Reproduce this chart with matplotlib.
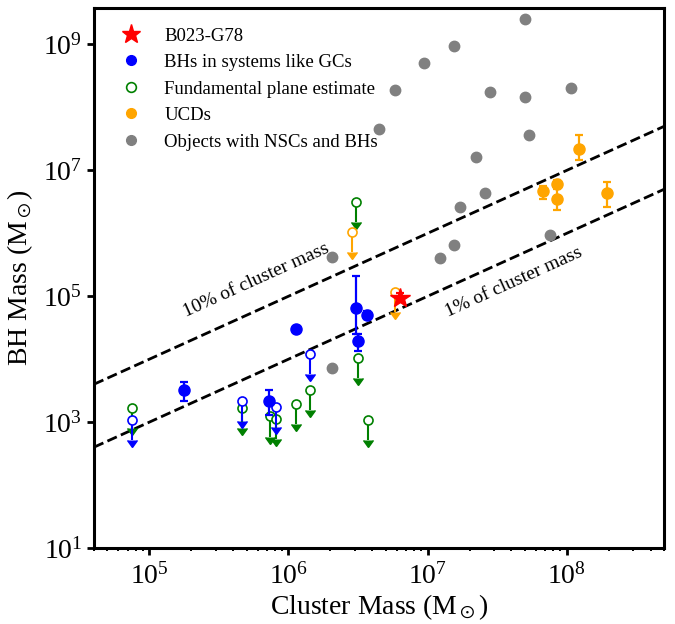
import numpy as np
import matplotlib
matplotlib.use('Agg')
import matplotlib.pyplot as plt
import matplotlib.lines as mlines

plt.rcParams['font.family'] = ['Liberation Serif', 'DejaVu Serif']
plt.rcParams['mathtext.fontset'] = 'stix'

# ---------------- data ----------------
# B023-G78
star_x = [6.3e6]
star_y = [9.5e4]
star_ylo = [8.0e4]
star_yhi = [1.12e5]

# BHs in systems like GCs (detections)
gc_x = [1.76e5, 7.3e5, 1.13e6, 3.08e6, 3.69e6, 3.16e6]
gc_y = [3.26e3, 2.18e3, 3.0e4, 6.4e4, 5.05e4, 1.93e4]
gc_ylo = [2.15e3, 1.3e3, 3.0e4, 2.5e4, 4.4e4, 1.37e4]
gc_yhi = [4.36e3, 3.26e3, 3.0e4, 2.1e5, 5.85e4, 2.5e4]

# BHs in systems like GCs (upper limits, open blue)
bul_x = [7.5e4, 4.62e5, 8.17e5, 1.43e6]
bul_y = [1.09e3, 2.18e3, 1.77e3, 1.19e4]

# Fundamental plane estimates (upper limits, open green)
fp_x = [7.5e4, 4.62e5, 7.31e5, 8.17e5, 1.135e6, 1.42e6, 3.72e6, 3.15e6, 3.08e6]
fp_y = [1.69e3, 1.67e3, 1.23e3, 1.13e3, 1.91e3, 3.26e3, 1.09e3, 1.05e4, 3.14e6]

# UCDs (detections)
ucd_x = [1.22e8, 6.73e7, 8.45e7, 8.45e7, 1.94e8]
ucd_y = [2.18e7, 4.64e6, 6.07e6, 3.47e6, 4.37e6]
ucd_ylo = [1.44e7, 3.5e6, 5.4e6, 2.35e6, 2.6e6]
ucd_yhi = [3.6e7, 5.6e6, 7.0e6, 5.0e6, 6.45e6]

# UCDs (upper limits, open orange)
oul_x = [2.85e6, 5.85e6]
oul_y = [1.06e6, 1.15e5]

# Objects with NSCs and BHs
nsc_x = [5.0e7, 1.54e7, 9.4e6, 5.8e6, 2.8e7, 5.0e7, 1.07e8, 4.5e6, 5.35e7,
         2.24e7, 2.57e7, 1.71e7, 1.54e7, 1.23e7, 7.6e7, 2.06e6, 2.06e6]
nsc_y = [2.5e9, 9.3e8, 5.1e8, 1.9e8, 1.75e8, 1.46e8, 2.06e8, 4.5e7, 3.6e7,
         1.64e7, 4.4e6, 2.6e6, 6.6e5, 4.0e5, 9.5e5, 4.2e5, 7.2e3]

line_fracs = [0.1, 0.01]
line_labels = ['10% of cluster mass', '1% of cluster mass']
line_label_pos = [(5.9e5, 1.8e5), (4.17e7, 1.67e5)]

xlim = (4e4, 5e8)
ylim = (1e1, 3.8e9)

# ---------------- figure ----------------
fig = plt.figure(figsize=(6.75, 6.24), dpi=100)
ax = fig.add_axes([94/675, 1-548/624, 570/675, 540/624])
ax.set_xscale('log')
ax.set_yscale('log')
ax.set_xlim(*xlim)
ax.set_ylim(*ylim)

# dashed lines
xx = np.array(xlim)
for f in line_fracs:
    ax.plot(xx, f*xx, ls='--', color='black', lw=2.0, zorder=1)

ARROW = 0.48
def upper_limits(xs, ys, color, zorder):
    xs = np.array(xs); ys = np.array(ys)
    ax.vlines(xs, ys*ARROW, ys, color=color, lw=1.5, zorder=zorder)
    ax.plot(xs, ys*ARROW, ls='none', marker=mlines.CARETDOWNBASE, ms=6.5,
            color=color, zorder=zorder)
    ax.plot(xs, ys, ls='none', marker='o', ms=6.5, mfc='white', mec=color,
            mew=1.2, zorder=zorder+0.1)

# gray
ax.plot(nsc_x, nsc_y, ls='none', marker='o', ms=7.5, color='gray', zorder=2)

# green FP upper limits
upper_limits(fp_x, fp_y, 'green', 3)
# blue upper limits
upper_limits(bul_x, bul_y, 'blue', 3.5)
# orange upper limits
upper_limits(oul_x, oul_y, 'orange', 3.5)

# blue detections
gy = np.array(gc_y)
ax.errorbar(gc_x, gc_y, yerr=[gy-np.array(gc_ylo), np.array(gc_yhi)-gy],
            fmt='none', ecolor='blue', elinewidth=1.6, capsize=2.8, capthick=1.6,
            zorder=4)
ax.plot(gc_x, gc_y, ls='none', marker='o', ms=8, color='blue', zorder=4.1)

# UCD detections
uy = np.array(ucd_y)
ax.errorbar(ucd_x, ucd_y, yerr=[uy-np.array(ucd_ylo), np.array(ucd_yhi)-uy],
            fmt='none', ecolor='orange', elinewidth=1.6, capsize=2.8, capthick=1.6,
            zorder=4)
ax.plot(ucd_x, ucd_y, ls='none', marker='o', ms=8, color='orange', zorder=4.1)

# star
sy = np.array(star_y)
ax.errorbar(star_x, star_y, yerr=[sy-np.array(star_ylo), np.array(star_yhi)-sy],
            fmt='none', ecolor='red', elinewidth=1.6, capsize=2.8, capthick=1.6,
            zorder=5)
ax.plot(star_x, star_y, ls='none', marker='*', ms=15, color='red', zorder=5.1)

# line labels, rotated along the lines
for f, lab, (tx, ty) in zip(line_fracs, line_labels, line_label_pos):
    p1 = ax.transData.transform((1e5, f*1e5))
    p2 = ax.transData.transform((1e7, f*1e7))
    ang = np.degrees(np.arctan2(p2[1]-p1[1], p2[0]-p1[0]))
    ax.text(tx, ty, lab, rotation=ang, rotation_mode='anchor', ha='center',
            va='center', fontsize=14)

# legend proxies
handles = [
    mlines.Line2D([], [], ls='none', marker='*', ms=14, color='red'),
    mlines.Line2D([], [], ls='none', marker='o', ms=7, color='blue'),
    mlines.Line2D([], [], ls='none', marker='o', ms=7, mfc='white', mec='green', mew=1.2),
    mlines.Line2D([], [], ls='none', marker='o', ms=7, color='orange'),
    mlines.Line2D([], [], ls='none', marker='o', ms=7, color='gray'),
]
labels = ['B023-G78', 'BHs in systems like GCs', 'Fundamental plane estimate',
          'UCDs', 'Objects with NSCs and BHs']
ax.legend(handles, labels, loc='upper left', bbox_to_anchor=(0.018, 0.978),
          borderaxespad=0, frameon=False, fontsize=13.5, handlelength=2,
          handletextpad=0.8, labelspacing=0.5)

# axes styling
ax.set_yticks([1e1, 1e3, 1e5, 1e7, 1e9])
ax.yaxis.set_minor_locator(matplotlib.ticker.NullLocator())
ax.xaxis.set_major_locator(matplotlib.ticker.LogLocator(base=10))
ax.xaxis.set_minor_locator(matplotlib.ticker.LogLocator(base=10, subs=np.arange(2, 10)))
ax.xaxis.set_minor_formatter(matplotlib.ticker.NullFormatter())
for s in ax.spines.values():
    s.set_linewidth(2.2)
ax.tick_params(which='major', length=5, width=2.0, labelsize=20, direction='out')
ax.tick_params(which='minor', length=2.5, width=1.4, direction='out')
ax.tick_params(axis='x', pad=6)

ax.set_xlabel(r'Cluster Mass (M$_\odot$)', fontsize=20, labelpad=2)
ax.set_ylabel(r'BH Mass (M$_\odot$)', fontsize=20, labelpad=6)

fig.savefig('out.png', dpi=100)
